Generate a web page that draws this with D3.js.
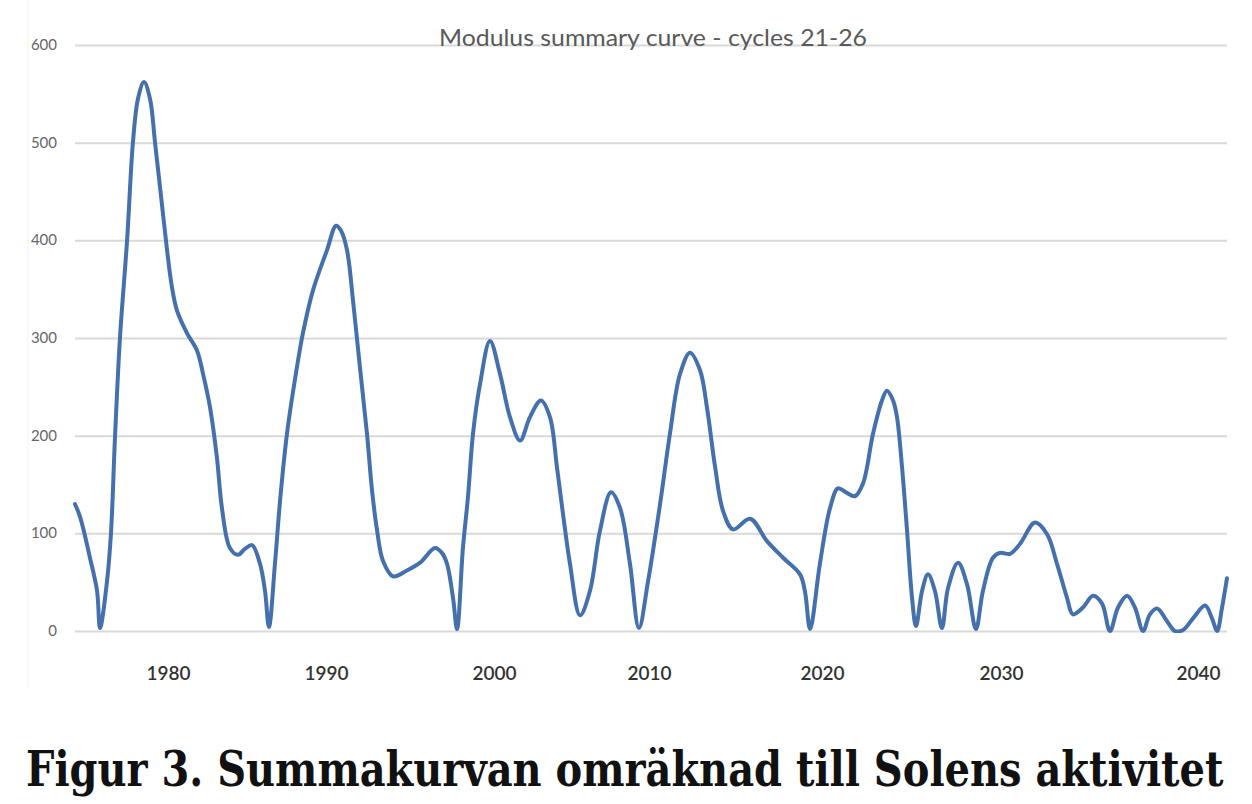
<!DOCTYPE html>
<html>
<head>
<meta charset="utf-8">
<script src="https://cdn.jsdelivr.net/npm/d3@7"></script>
<style>
	body { margin: 0; background: #fff; }
	svg { display: block; }
</style>
</head>
<body>
<div id="chart"></div>
<script>
// curve (year, modulus)
var years = [
	1974.11, 1974.43, 1975.06, 1975.51, 1975.70, 1976.14, 1976.39, 1976.65, 1976.96, 1977.41,
	1977.78, 1978.10, 1978.48, 1978.86, 1979.18, 1979.56, 1979.94, 1980.25, 1980.57, 1981.20, 1981.84,
	1982.22, 1982.66, 1983.10, 1983.42, 1983.92, 1984.43, 1984.87, 1985.32, 1985.82, 1986.14,
	1986.39, 1986.77, 1987.09, 1987.53, 1988.16, 1988.54, 1989.18, 1990.06, 1990.60, 1990.89,
	1991.25, 1991.61, 1992.02, 1992.44, 1992.74, 1993.04, 1993.39, 1993.99, 1994.82, 1995.60,
	1996.49, 1996.90, 1997.20, 1997.56, 1997.80, 1998.15, 1998.45, 1998.75, 1999.17, 1999.76,
	2000.39, 2001.03, 2001.68, 2002.32, 2003.03, 2003.61, 2004.06, 2004.45, 2004.90, 2005.55,
	2006.19, 2006.84, 2007.55, 2008.13, 2008.77, 2009.35, 2009.94, 2010.64, 2011.21, 2011.79,
	2012.37, 2012.95, 2013.35, 2013.82, 2014.28, 2014.86, 2015.84, 2016.82, 2017.75, 2018.73,
	2019.02, 2019.31, 2019.88, 2020.45, 2020.89, 2021.34, 2021.84, 2022.29, 2022.85, 2023.35,
	2023.63, 2023.97, 2024.19, 2024.47, 2024.75, 2025.03, 2025.25, 2025.59, 2025.92, 2026.31,
	2026.70, 2027.04, 2027.60, 2028.10, 2028.60, 2028.99, 2029.55, 2029.94, 2030.46, 2030.96,
	2031.73, 2032.34, 2032.84, 2033.35, 2033.65, 2034.16, 2034.67, 2035.13, 2035.53, 2035.94,
	2036.40, 2036.80, 2037.21, 2037.56, 2037.92, 2038.43, 2038.83, 2039.24, 2039.75, 2040.36,
	2040.71, 2040.97, 2041.22, 2041.47
];
var values = [
	130, 117, 75, 41, 3, 51, 100, 200, 300, 400,
	500, 545, 562, 545, 500, 445, 390, 352, 328, 305, 287,
	263, 229, 177, 125, 85, 78, 84, 88, 69, 41,
	4, 69, 133, 202, 270, 305, 349, 390, 415, 410,
	390, 338, 270, 202, 144, 103, 72, 56, 62, 70,
	85, 80, 69, 34, 2, 85, 137, 202, 253, 297,
	263, 219, 195, 219, 236, 219, 168, 120, 69, 16,
	41, 103, 142, 126, 69, 3, 51, 130, 202, 263,
	285, 267, 229, 168, 123, 104, 115, 92, 75, 58,
	40, 2, 69, 126, 146, 142, 138, 151, 202, 236,
	246, 236, 219, 168, 103, 34, 5, 41, 58, 41,
	3, 44, 70, 48, 2, 41, 75, 80, 79, 89,
	111, 99, 69, 34, 17, 24, 36, 28, 0, 24,
	36, 24, 0, 17, 23, 10, 0, 1, 13, 26,
	13, 0, 24, 54
];
var xTicks = [1980, 1990, 2000, 2010, 2020, 2030, 2040];
var yTicks = [0, 100, 200, 300, 400, 500, 600];
var title = "Modulus summary curve - cycles 21-26";
var caption = "Figur 3. Summakurvan omräknad till Solens aktivitet";

// layout
var w = 1252;
var h = 804;
var plotLeft = 75, plotRight = 1227, plotTop = 45, plotBottom = 631;
// where the year labels sit in the original (its axis is not evenly spaced)
var tickPos = [168, 326, 494, 649, 822, 1001, 1198];

var svg = d3.select("#chart").append("svg")
	.attr("width", w)
	.attr("height", h);

var x = d3.scaleLinear().domain(xTicks).range(tickPos);
var y = d3.scaleLinear().domain([0, 600]).range([plotBottom, plotTop]);

// faint chart area edge
svg.append("line")
	.attr("x1", 28).attr("x2", 28)
	.attr("y1", 0).attr("y2", 688)
	.attr("stroke", "#f2f2f2")
	.attr("stroke-width", 1);

// gridlines
svg.append("g")
	.attr("transform", "translate(" + plotLeft + ",0)")
	.call(d3.axisLeft(y).tickValues(yTicks).tickSize(-(plotRight - plotLeft)).tickFormat(""))
	.call(function(g) {
		g.select(".domain").remove();
		g.selectAll("line").attr("stroke", "#d9d9d9").attr("stroke-width", 2);
	});

// y labels
svg.selectAll("text.ylab")
	.data(yTicks)
	.enter()
	.append("text")
	.attr("class", "ylab")
	.attr("x", 57)
	.attr("y", function(d) { return y(d) + 5; })
	.attr("text-anchor", "end")
	.attr("font-family", "Lato, 'Open Sans', sans-serif")
	.attr("font-size", 15)
	.attr("fill", "#666")
	.text(function(d) { return d; });

// x labels
svg.append("g")
	.attr("transform", "translate(0," + 680 + ")")
	.call(d3.axisBottom(x).tickValues(xTicks).tickSize(0).tickPadding(0).tickFormat(d3.format("d")))
	.call(function(g) {
		g.select(".domain").remove();
		g.selectAll("text")
			.attr("dy", 0)
			.attr("font-family", "Lato, 'Open Sans', sans-serif")
			.attr("font-size", 19)
			.attr("font-weight", 600)
			.attr("fill", "#333");
	});

// title
svg.append("text")
	.attr("x", 653)
	.attr("y", 46)
	.attr("text-anchor", "middle")
	.attr("font-family", "Lato, 'Open Sans', sans-serif")
	.attr("font-size", 24)
	.attr("fill", "#595959")
	.attr("textLength", 428)
	.attr("lengthAdjust", "spacingAndGlyphs")
	.text(title);

// curve
var pts = years.map(function(d, i) { return [d, values[i]]; });
var line = d3.line()
	.x(function(d) { return x(d[0]); })
	.y(function(d) { return y(d[1]); })
	.curve(d3.curveCatmullRom.alpha(0.5));

svg.append("clipPath")
	.attr("id", "plotclip")
	.append("rect")
	.attr("x", 0).attr("y", 0)
	.attr("width", w).attr("height", plotBottom + 2);

svg.append("path")
	.datum(pts)
	.attr("d", line)
	.attr("clip-path", "url(#plotclip)")
	.attr("fill", "none")
	.attr("stroke", "#4470ae")
	.attr("stroke-width", 4)
	.attr("stroke-linejoin", "round")
	.attr("stroke-linecap", "round");

// caption - condensed by squeezing it horizontally to the picture's width
var cap = svg.append("text")
	.attr("font-family", "'DejaVu Serif', serif")
	.attr("font-weight", "bold")
	.attr("font-size", 48)
	.attr("fill", "#111")
	.text(caption);
var capLen = cap.node().getComputedTextLength();
cap.attr("transform", "translate(26,786) scale(" + (1198 / capLen) + ",1)");
</script>
</body>
</html>
